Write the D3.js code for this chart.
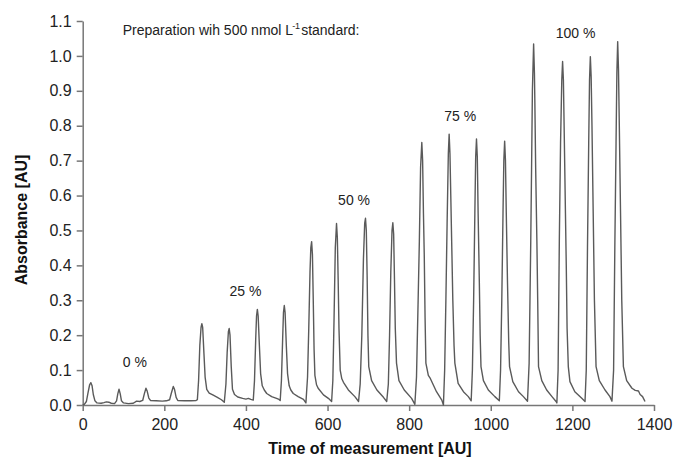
<!DOCTYPE html>
<html>
  <head>
    <meta charset="utf-8">
    <title>Absorbance over time of measurement</title>
    <script src="https://d3js.org/d3.v7.min.js"></script>
    <style>
      body { margin: 0; background: #fff; }
      svg { display: block; font-family: "Liberation Sans", Arial, sans-serif; }
      .axis path, .axis line { stroke: #777; stroke-width: 1.5; }
      .axis text { font-size: 16px; fill: #222; }
      .title { font-size: 16px; font-weight: bold; fill: #111; }
      .note { font-size: 14px; fill: #222; }
    </style>
  </head>
  <body>
    <svg id="chart" width="675" height="463"></svg>
    <script>
      // trace: [time AU, absorbance AU]
      var trace = [
        [0, 0.000], [4, 0.002], [9, 0.010], [13, 0.035], [17, 0.058], [20, 0.064], [23, 0.055], [26, 0.030], [30, 0.012],
        [35, 0.006], [45, 0.005], [52, 0.007], [58, 0.009], [64, 0.008], [70, 0.005], [78, 0.004],
        [83, 0.012], [86, 0.032], [89, 0.045], [92, 0.032], [95, 0.012], [100, 0.006], [112, 0.004], [124, 0.005],
        [132, 0.011], [140, 0.010], [147, 0.013], [151, 0.032], [155, 0.048], [158, 0.040], [162, 0.020], [166, 0.013],
        [180, 0.012], [195, 0.011], [205, 0.012], [213, 0.015], [217, 0.033], [222, 0.053], [225, 0.045], [229, 0.022],
        [233, 0.013], [250, 0.012], [265, 0.012], [278, 0.013],
        // 25 %
        [281, 0.015], [284, 0.07], [287, 0.17], [290, 0.222], [292, 0.233], [294, 0.222], [297, 0.15], [300, 0.08],
        [304, 0.045], [310, 0.034], [320, 0.028], [330, 0.022], [340, 0.015], [347, 0.008],
        [351, 0.06], [354, 0.15], [357, 0.21], [359, 0.219], [361, 0.2], [364, 0.11], [367, 0.045], [372, 0.03],
        [380, 0.023], [392, 0.019], [400, 0.017], [406, 0.019], [412, 0.016], [418, 0.014],
        [421, 0.07], [424, 0.19], [426, 0.255], [428, 0.274], [430, 0.255], [433, 0.17], [436, 0.09], [440, 0.055],
        [445, 0.043], [451, 0.033], [463, 0.024], [475, 0.019], [481, 0.016], [484, 0.013],
        [487, 0.07], [490, 0.19], [492, 0.265], [494, 0.285], [496, 0.265], [499, 0.17], [502, 0.09], [506, 0.055],
        [510, 0.043], [516, 0.033], [528, 0.024], [541, 0.016], [547, 0.006],
        // 50 %
        [551, 0.08], [554, 0.22], [557, 0.38], [559, 0.45], [561, 0.468], [563, 0.43], [565, 0.3], [567, 0.16],
        [569, 0.085], [573, 0.058], [577, 0.048], [590, 0.029], [602, 0.019], [610, 0.010],
        [613, 0.07], [616, 0.25], [619, 0.45], [622, 0.52], [624, 0.48], [626, 0.36], [628, 0.22], [631, 0.1],
        [635, 0.075], [639, 0.065], [651, 0.043], [667, 0.024], [676, 0.010],
        [680, 0.06], [684, 0.2], [688, 0.42], [691, 0.52], [693, 0.535], [695, 0.5], [697, 0.37], [699, 0.2],
        [701, 0.11], [708, 0.07], [721, 0.043], [737, 0.022], [745, 0.010],
        [749, 0.06], [752, 0.2], [755, 0.38], [758, 0.5], [760, 0.522], [762, 0.49], [764, 0.36], [766, 0.22],
        [769, 0.12], [775, 0.07], [788, 0.043], [806, 0.019], [814, 0.002],
        // 75 %
        [818, 0.08], [822, 0.3], [825, 0.47], [828, 0.68], [831, 0.752], [833, 0.7], [835, 0.55], [837, 0.43],
        [839, 0.25], [841, 0.12], [847, 0.085], [851, 0.078], [867, 0.038], [880, 0.014], [884, 0.000],
        [887, 0.1], [890, 0.3], [893, 0.52], [896, 0.72], [898, 0.776], [900, 0.72], [902, 0.6], [904, 0.48],
        [907, 0.3], [910, 0.17], [912, 0.12], [920, 0.062], [933, 0.038], [945, 0.024], [952, 0.012],
        [955, 0.1], [958, 0.3], [961, 0.55], [963, 0.71], [965, 0.762], [967, 0.71], [969, 0.55], [972, 0.35],
        [974, 0.2], [976, 0.11], [982, 0.07], [994, 0.043], [1010, 0.024], [1021, 0.012],
        [1024, 0.1], [1027, 0.3], [1030, 0.55], [1032, 0.7], [1034, 0.756], [1036, 0.7], [1038, 0.55], [1041, 0.35],
        [1044, 0.18], [1046, 0.11], [1054, 0.067], [1068, 0.038], [1080, 0.024], [1090, 0.011],
        // 100 %
        [1094, 0.12], [1098, 0.47], [1100, 0.68], [1102, 0.9], [1105, 1.034], [1107, 0.95], [1108, 0.87], [1110, 0.68],
        [1113, 0.47], [1115, 0.3], [1117, 0.11], [1125, 0.07], [1137, 0.043], [1150, 0.024], [1160, 0.01], [1162, 0.006],
        [1165, 0.1], [1168, 0.47], [1171, 0.75], [1174, 0.93], [1176, 0.984], [1178, 0.93], [1180, 0.78], [1183, 0.55],
        [1185, 0.4], [1187, 0.22], [1190, 0.11], [1194, 0.067], [1206, 0.038], [1223, 0.019], [1231, 0.01],
        [1234, 0.1], [1237, 0.45], [1240, 0.75], [1242, 0.93], [1244, 0.998], [1246, 0.94], [1248, 0.8], [1251, 0.55],
        [1254, 0.3], [1258, 0.11], [1266, 0.07], [1280, 0.043], [1292, 0.024], [1297, 0.011],
        [1301, 0.1], [1304, 0.45], [1307, 0.75], [1309, 0.95], [1311, 1.041], [1313, 0.96], [1315, 0.8], [1318, 0.55],
        [1321, 0.3], [1325, 0.11], [1333, 0.07], [1346, 0.048], [1354, 0.042], [1362, 0.04], [1366, 0.03],
        [1372, 0.024], [1378, 0.01]
      ];
      var xTicks = [0, 200, 400, 600, 800, 1000, 1200, 1400];
      var yTicks = [0, 0.1, 0.2, 0.3, 0.4, 0.5, 0.6, 0.7, 0.8, 0.9, 1.0, 1.1];
      var groupLabels = ["0 %", "25 %", "50 %", "75 %", "100 %"];
      var xTitle = "Time of measurement [AU]";
      var yTitle = "Absorbance [AU]";
      var noteText = ["Preparation wih 500 nmol L", "-1", "standard:"];

      // where the annotations sit, in data units (time, absorbance)
      var labelAnchors = [[128, 0.110], [399, 0.313], [665, 0.573], [925, 0.814], [1208, 1.052]];
      var noteAnchor = [98, 1.06];

      svg = d3.select("#chart");
      x = d3.scaleLinear().domain([0, 1400]).range([82.7, 654]);
      y = d3.scaleLinear().domain([0, 1.1]).range([405, 21]);

      // axes
      svg.append("g")
        .attr("class", "axis")
        .attr("transform", "translate(0,405)")
        .call(d3.axisBottom(x).tickValues(xTicks).tickSize(6).tickSizeOuter(0).tickPadding(8).tickFormat(d3.format("d")))
        .call(function(g) { g.selectAll("text").attr("dy", "0.71em"); });
      svg.append("g")
        .attr("class", "axis")
        .attr("transform", "translate(82.7,0)")
        .call(d3.axisLeft(y).tickValues(yTicks).tickSize(6).tickSizeOuter(0).tickPadding(5).tickFormat(d3.format(".1f")));
      svg.selectAll(".axis .domain").attr("stroke", "#777");

      // trace
      line = d3.line()
        .x(function(d) { return x(d[0]); })
        .y(function(d) { return y(d[1]); });
      svg.append("path")
        .datum(trace)
        .attr("fill", "none")
        .attr("stroke", "#5a5a5a")
        .attr("stroke-width", 1.4)
        .attr("stroke-linejoin", "round")
        .attr("d", line);

      // axis titles
      svg.append("text")
        .attr("class", "title")
        .attr("x", 370)
        .attr("y", 454)
        .attr("text-anchor", "middle")
        .text(xTitle);
      svg.append("text")
        .attr("class", "title")
        .attr("transform", "translate(27," + 220 + ") rotate(-90)")
        .attr("text-anchor", "middle")
        .text(yTitle);

      // group labels
      svg.selectAll(".group")
        .data(groupLabels)
        .enter().append("text")
          .attr("class", "note")
          .attr("x", function(d, i) { return x(labelAnchors[i][0]); })
          .attr("y", function(d, i) { return y(labelAnchors[i][1]); })
          .attr("text-anchor", "middle")
          .text(function(d) { return d; });

      // preparation note with superscript
      note = svg.append("text")
        .attr("class", "note")
        .attr("x", x(noteAnchor[0]))
        .attr("y", y(noteAnchor[1]));
      note.append("tspan").text(noteText[0]);
      note.append("tspan").attr("dy", -6).attr("font-size", "9px").attr("dx", -1).text(noteText[1]);
      note.append("tspan").attr("dy", 6).attr("dx", 1).text(noteText[2]);
    </script>
  </body>
</html>
